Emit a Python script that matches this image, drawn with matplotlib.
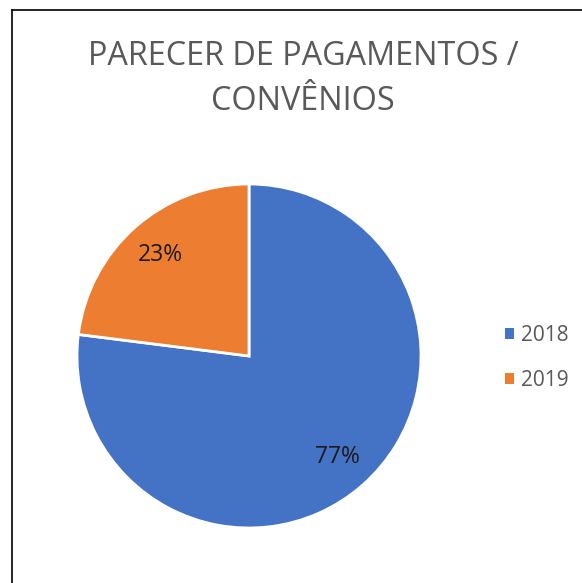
import matplotlib
matplotlib.use('Agg')
import matplotlib.pyplot as plt
from matplotlib.patches import Patch
from matplotlib.lines import Line2D

# data
years = ['2018', '2019']
shares = [77, 23]
colors = ['#4472C4', '#ED7D31']
title_lines = ['PARECER DE PAGAMENTOS /', 'CONVÊNIOS']

plt.rcParams['font.family'] = ['Open Sans', 'DejaVu Sans']

W, H = 582, 583
fig = plt.figure(figsize=(W / 100, H / 100), dpi=100)
fig.patch.set_facecolor('white')

# pie axes, centre (249, 356) px, radius 172 px
cx, cy, r = 249, 356, 172
ax = fig.add_axes([(cx - r) / W, (H - cy - r) / H, 2 * r / W, 2 * r / H])
wedges, texts, autotexts = ax.pie(
    shares, colors=colors, startangle=90, counterclock=False,
    autopct='%1.0f%%', pctdistance=0.78,
    wedgeprops=dict(edgecolor='white', linewidth=2),
    textprops=dict(color='#1a1a1a', fontsize=16.5))
ax.set_xlim(-1, 1)
ax.set_ylim(-1, 1)
ax.set_aspect('equal')
ax.axis('off')

# title
fig.text(303 / W, 1 - 65 / H, title_lines[0], ha='center', va='baseline',
         fontsize=23.3, color='#595959')
fig.text(303 / W, 1 - 110 / H, title_lines[1], ha='center', va='baseline',
         fontsize=23.3, color='#595959')

# legend
handles = [Patch(facecolor=c, edgecolor='none') for c in colors]
fig.legend(handles, years, loc='center left', bbox_to_anchor=(505 / W, 1 - 358 / H),
           frameon=False, fontsize=15, labelcolor='#595959',
           handlelength=0.42, handleheight=0.42, handletextpad=0.35,
           labelspacing=1.15, borderpad=0, borderaxespad=0)

# chart border (only left and top edges visible)
fig.add_artist(Line2D([12 / W, 12 / W], [0, 1 - 10 / H], color='black', lw=1.2,
                      transform=fig.transFigure))
fig.add_artist(Line2D([12 / W, 1], [1 - 10 / H, 1 - 10 / H], color='black', lw=1.2,
                      transform=fig.transFigure))

fig.savefig('out.png', dpi=100, facecolor='white')
